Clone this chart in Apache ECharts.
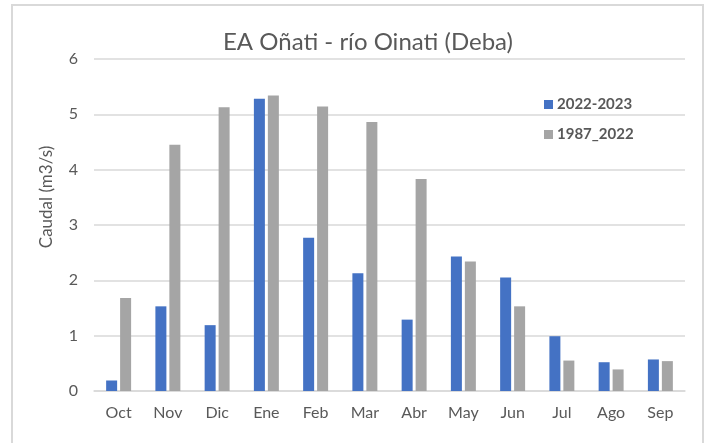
<!DOCTYPE html>
<html>
<head>
<meta charset="utf-8">
<script src="https://cdn.jsdelivr.net/npm/echarts@6/dist/echarts.min.js"></script>
<style>
  html, body { margin: 0; padding: 0; background: #fff; }
  #frame { position: absolute; left: 11px; top: 4px; width: 689px; height: 460px; border: 2px solid #d9d9d9; }
  #chart { position: absolute; left: 0; top: 0; width: 712px; height: 443px; }
</style>
</head>
<body>
<div id="frame"></div>
<div id="chart"></div>
<script>
// meses del año hidrológico
const months = ["Oct", "Nov", "Dic", "Ene", "Feb", "Mar", "Abr", "May", "Jun", "Jul", "Ago", "Sep"];
// caudal medio mensual (m3/s)
const year2223 = [0.19, 1.53, 1.19, 5.28, 2.77, 2.13, 1.29, 2.43, 2.05, 0.99, 0.52, 0.57];
const hist8722 = [1.68, 4.45, 5.13, 5.34, 5.14, 4.86, 3.83, 2.34, 1.53, 0.55, 0.39, 0.54];
const seriesNames = ["2022-2023", "1987_2022"];

const txt = "#595959";
const font = "Lato, 'Open Sans', sans-serif";

const myChart = echarts.init(document.getElementById("chart"), null, { renderer: "canvas" });

const option = {
  animation: false,
  textStyle: { fontFamily: font },
  title: {
    text: "EA Oñati - río Oinati (Deba)",
    left: 363,
    textAlign: "center",
    top: 25,
    textStyle: { fontFamily: font, fontSize: 24, fontWeight: "normal", color: txt }
  },
  grid: {
    left: 94,
    right: 27,
    top: 59,
    bottom: 52
  },
  legend: {
    orient: "vertical",
    left: 544,
    top: 97,
    padding: 0,
    itemWidth: 9,
    itemHeight: 9,
    itemGap: 15,
    icon: "rect",
    data: seriesNames,
    textStyle: { fontFamily: font, fontSize: 15, fontWeight: "bold", color: txt, padding: [0, 0, 0, -1] }
  },
  xAxis: {
    type: "category",
    data: months,
    axisTick: { show: false },
    axisLine: { lineStyle: { color: "#d9d9d9", width: 1.5 } },
    axisLabel: { color: txt, fontSize: 16, margin: 14, interval: 0 }
  },
  yAxis: {
    type: "value",
    min: 0,
    max: 6,
    interval: 1,
    name: "Caudal (m3/s)",
    nameLocation: "center",
    nameGap: 39,
    nameTextStyle: { color: txt, fontSize: 17, padding: [0, 0, 0, 56] },
    axisLine: { show: false },
    axisTick: { show: false },
    axisLabel: { color: txt, fontSize: 16, margin: 16 },
    splitLine: { lineStyle: { color: "#d9d9d9", width: 1.5 } }
  },
  series: [
    {
      name: seriesNames[0],
      type: "bar",
      barWidth: 11,
      barGap: "27%",
      itemStyle: { color: "#4472C4" },
      data: year2223
    },
    {
      name: seriesNames[1],
      type: "bar",
      barWidth: 11,
      itemStyle: { color: "#A5A5A5" },
      data: hist8722
    }
  ]
};

myChart.setOption(option);
</script>
</body>
</html>
